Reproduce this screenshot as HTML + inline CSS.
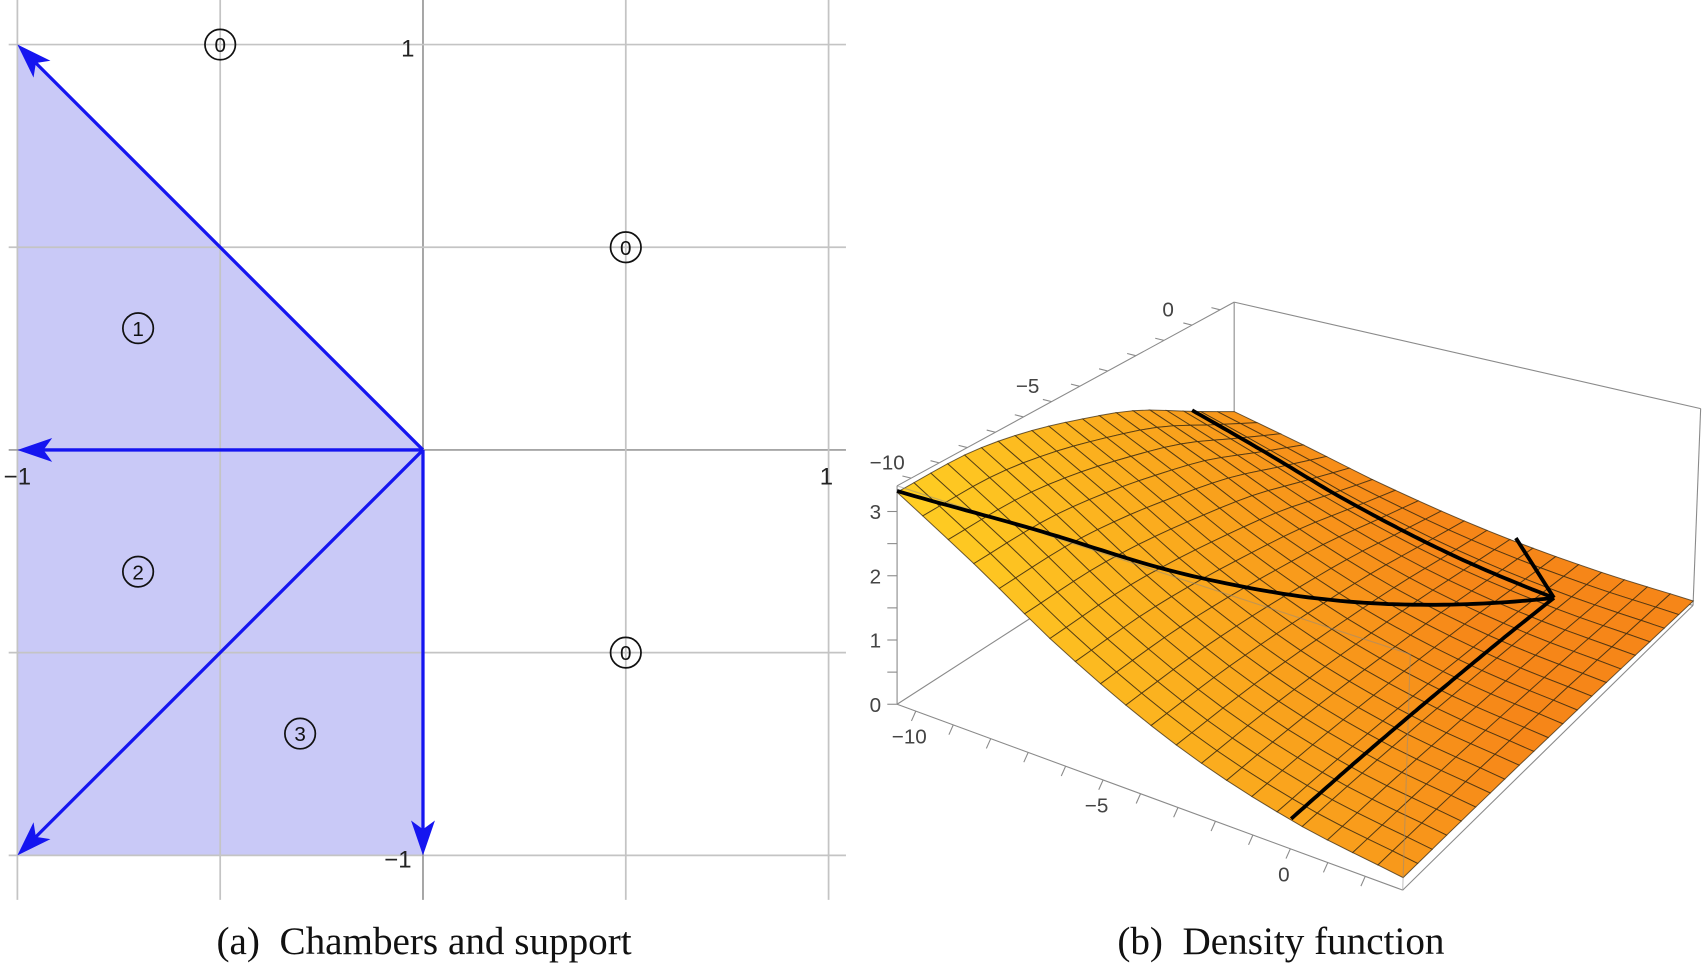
<!DOCTYPE html>
<html><head><meta charset="utf-8"><style>
html,body{margin:0;padding:0;background:#fff;}
svg{display:block;}
</style></head><body>
<svg id="fig" width="1705" height="964" viewBox="0 0 1568 887" preserveAspectRatio="none" xmlns="http://www.w3.org/2000/svg">
<g id="left"></g>
<g id="right"></g>
<text x="390" y="878" text-anchor="middle" font-family="Liberation Serif, serif" font-size="36" fill="#111">(a)&#160;&#160;Chambers and support</text>
<text x="1178" y="878" text-anchor="middle" font-family="Liberation Serif, serif" font-size="36" fill="#111">(b)&#160;&#160;Density function</text>
</svg>
<script>
// ---- left chart data ----
const gridVals = [-1, -0.5, 0, 0.5, 1];
const regionX = [-1, 0, 0, -1];
const regionY = [1, 0, -1, -1];
const arrowX = [-1, -1, -1, 0];
const arrowY = [1, 0, -1, -1];
const chamberLabels = ['0', '0', '0', '1', '2', '3'];
const chamberX = [-0.5, 0.5, 0.5, -0.7, -0.7, -0.3];
const chamberY = [1, 0.5, -0.5, 0.3, -0.3, -0.7];
// ---- right chart data ----
const xs = [-10.5, -8.5, -6, -3, 0, 3];
const hFront = [3.3, 2.6, 1.7, 0.9, 0.42, 0.18];
const ys = [-10.5, -8, -6, -4, -2, 0, 1.5];
const yRatio = [1, 1.0, 0.95, 0.86, 0.74, 0.56, 0.42];
const zTicks = [0, 1, 2, 3];
const xTicks = [-10, -5, 0];
const yTicks = [-10, -5, 0];

const NS = 'http://www.w3.org/2000/svg';
function mk(tag, attrs, parent) {
  const e = document.createElementNS(NS, tag);
  for (const k in attrs) e.setAttribute(k, attrs[k]);
  parent.appendChild(e);
  return e;
}
// left axes
const L = document.getElementById('left');
const sx = v => 389 + v * 373;
const sy = v => 414 - v * 373;
const poly = regionX.map((x, i) => sx(x) + ',' + sy(regionY[i])).join(' ');
let e = mk('polygon', {points: poly, fill: '#c9c9f7'}, L);


gridVals.forEach(v => {
  const c = v === 0 ? '#9a9a9a' : '#c4c4c4';
  let g = mk('line', {x1: sx(v), y1: 0, x2: sx(v), y2: 828, stroke: c, 'stroke-width': 1.6}, L);
  
  
  g = mk('line', {x1: 8, y1: sy(v), x2: 778, y2: sy(v), stroke: c, 'stroke-width': 1.6}, L);
  
  
});
[[375, 52, '1'], [16, 446, '−1'], [760, 446, '1'], [366, 798, '−1']].forEach(t => {
  const tx = mk('text', {x: t[0], y: t[1], 'text-anchor': 'middle', 'font-family': 'Liberation Sans, sans-serif', 'font-size': 22, fill: '#222'}, L);
  tx.textContent = t[2];
  
  
});
arrowX.forEach((x, i) => {
  const x0 = sx(0), y0 = sy(0), x1 = sx(x), y1 = sy(arrowY[i]);
  const dx = x1 - x0, dy = y1 - y0, len = Math.hypot(dx, dy), ux = dx / len, uy = dy / len;
  const hl = 32, hw = 11;
  const bx = x1 - ux * hl, by = y1 - uy * hl;
  const a = mk('line', {x1: x0, y1: y0, x2: bx + ux * 8, y2: by + uy * 8, stroke: '#1515f0', 'stroke-width': 3}, L);
  
  
  const h = mk('polygon', {points: `${x1},${y1} ${bx - uy * hw},${by + ux * hw} ${bx + ux * 8},${by + uy * 8} ${bx + uy * hw},${by - ux * hw}`, fill: '#1515f0'}, L);
  
  
});
chamberLabels.forEach((lab, i) => {
  const cx = i >= 3 ? [127, 127, 276][i - 3] : sx(chamberX[i]);
  const cy = i >= 3 ? [302, 526, 675][i - 3] : sy(chamberY[i]);
  const c = mk('circle', {cx: cx, cy: cy, r: 14, fill: 'none', stroke: '#111', 'stroke-width': 1.6}, L);
  
  
  const t = mk('text', {x: cx, y: cy + 7, 'text-anchor': 'middle', 'font-family': 'Liberation Sans, sans-serif', 'font-size': 19, fill: '#111'}, L);
  t.textContent = lab;
  
  
});

// right 3D surface
const R = document.getElementById('right');
const XMIN = -10.5, XMAX = 3, YMIN = -10.5, YMAX = 1.5, ZMAX = 3.4;
const Bq = {A: [825, 648], B: [1290, 819], C: [1135, 448], D: [1557, 557]};
const Tq = {A: [825, 447], B: [1297, 602], C: [1135, 278], D: [1564, 376]};
function bil(q, u, v) {
  const p = [q.A[0] + (q.B[0] - q.A[0]) * u, q.A[1] + (q.B[1] - q.A[1]) * u];
  const r = [q.C[0] + (q.D[0] - q.C[0]) * u, q.C[1] + (q.D[1] - q.C[1]) * u];
  return [p[0] + (r[0] - p[0]) * v, p[1] + (r[1] - p[1]) * v];
}
function proj(x, y, z) {
  const u = (x - XMIN) / (XMAX - XMIN), v = (y - YMIN) / (YMAX - YMIN);
  const b = bil(Bq, u, v), t = bil(Tq, u, v), f = z / ZMAX;
  return [b[0] + (t[0] - b[0]) * f, b[1] + (t[1] - b[1]) * f];
}
// smooth cubic Hermite interpolation
function interp(xa, ya, x) {
  const n = xa.length;
  if (x <= xa[0]) return ya[0];
  if (x >= xa[n - 1]) return ya[n - 1];
  let i = 1;
  while (x > xa[i]) i++;
  const k = i - 1;
  const m = j => {
    if (j === 0) return (ya[1] - ya[0]) / (xa[1] - xa[0]);
    if (j === n - 1) return (ya[n - 1] - ya[n - 2]) / (xa[n - 1] - xa[n - 2]);
    return (ya[j + 1] - ya[j - 1]) / (xa[j + 1] - xa[j - 1]);
  };
  const h = xa[i] - xa[k], t = (x - xa[k]) / h;
  const t2 = t * t, t3 = t2 * t;
  return (2 * t3 - 3 * t2 + 1) * ya[k] + (t3 - 2 * t2 + t) * h * m(k) + (-2 * t3 + 3 * t2) * ya[i] + (t3 - t2) * h * m(i);
}
const zf = (x, y) => interp(xs, hFront, x) * interp(ys, yRatio, y);
const P = (x, y, z) => proj(x, y, z).map(n => n.toFixed(1)).join(',');
function edge(p, q, name, extra) {
  const l = mk('line', Object.assign({x1: p[0], y1: p[1], x2: q[0], y2: q[1], stroke: '#8a8a8a', 'stroke-width': 1}, extra || {}), R);
  
  
}
edge(Bq.A, Tq.A, 'box-edge'); edge(Tq.A, Tq.C, 'box-edge'); edge(Tq.C, Tq.D, 'box-edge');
edge(Tq.D, Bq.D, 'box-edge'); edge(Bq.D, Bq.B, 'box-edge'); edge(Bq.B, Bq.A, 'box-edge');
edge(Bq.C, Tq.C, 'box-edge'); edge(Bq.C, Bq.A, 'box-edge'); edge(Bq.C, Bq.D, 'box-edge');
// ticks
for (let k = -10; k <= 2; k++) {
  const p = proj(k, YMIN, 0), q = [p[0] - 4, p[1] + 9];
  edge(p, q, 'x-axis-tick');
  const p2 = proj(XMIN, k, ZMAX), q2 = [p2[0] - 8, p2[1] - 2];
  if (k <= 1) edge(p2, q2, 'y-axis-tick');
}
for (let z = 0; z <= 3.2; z += 0.5) {
  const p = proj(XMIN, YMIN, z);
  edge(p, [p[0] - 9, p[1]], 'z-axis-tick');
}
// surface
const N = 20;
const g = mk('g', {stroke: '#3a2a10', 'stroke-width': 0.9, 'stroke-opacity': 0.75}, R);


function col(t) {
  const a = [255, 208, 35], b = [246, 134, 24];
  return 'rgb(' + a.map((c, i) => Math.round(c + (b[i] - c) * t)).join(',') + ')';
}
for (let j = N - 1; j >= 0; j--) {
  for (let i = 0; i < N; i++) {
    const x0 = XMIN + (XMAX - XMIN) * i / N, x1 = XMIN + (XMAX - XMIN) * (i + 1) / N;
    const y0 = YMIN + (YMAX - YMIN) * j / N, y1 = YMIN + (YMAX - YMIN) * (j + 1) / N;
    const u = (i + 0.5) / N, v = (j + 0.5) / N;
    const t = Math.min(1, 0.75 * u + 0.8 * v * (1 - 0.3 * u));
    const q = mk('polygon', {points: [P(x0, y0, zf(x0, y0)), P(x1, y0, zf(x1, y0)), P(x1, y1, zf(x1, y1)), P(x0, y1, zf(x0, y1))].join(' '), fill: col(t)}, g);
    
    
  }
}
edge(Tq.A, Tq.B, 'box-edge-front', {'stroke-opacity': 0.5});
edge(Bq.B, Tq.B, 'box-edge-front', {'stroke-opacity': 0.5});
// black curves
function curve(fn, name) {
  const pts = [];
  for (let s = 0; s <= 80; s++) { const [x, y] = fn(s / 80); pts.push(P(x, y, zf(x, y) + 0.02)); }
  const c = mk('polyline', {points: pts.join(' '), fill: 'none', stroke: '#000', 'stroke-width': 3.5, 'stroke-linejoin': 'round'}, R);
  
  
}
curve(t => [-10.5 + 10.5 * t, -10.5 + 10.5 * t], 'diagonal-curve');
curve(t => [-10.5 + 10.5 * t, 0], 'y-zero-curve');
curve(t => [0, -10.5 + 10.5 * t], 'x-zero-line');
const o = proj(0, 0, zf(0, 0) + 0.02);
const s = mk('line', {x1: o[0], y1: o[1], x2: o[0] - 35, y2: o[1] - 55, stroke: '#000', 'stroke-width': 3.5}, R);


// tick labels
function lab(x, y, txt, name) {
  const t = mk('text', {x: x, y: y, 'text-anchor': 'middle', 'font-family': 'Liberation Sans, sans-serif', 'font-size': 19, fill: '#444'}, R);
  t.textContent = txt;
  
  
}
zTicks.forEach(z => { const p = proj(XMIN, YMIN, z); lab(p[0] - 20, p[1] + 7, String(z), 'z-tick-label'); });
xTicks.forEach(x => { const p = proj(x, YMIN, 0); lab(p[0] - 6, p[1] + 30, String(x).replace('-', '−'), 'x-tick-label'); });
yTicks.forEach(y => { const p = proj(XMIN, y, ZMAX); lab(p[0] - 22, p[1] - 8, String(y).replace('-', '−'), 'y-tick-label'); });
</script>
</body></html>
